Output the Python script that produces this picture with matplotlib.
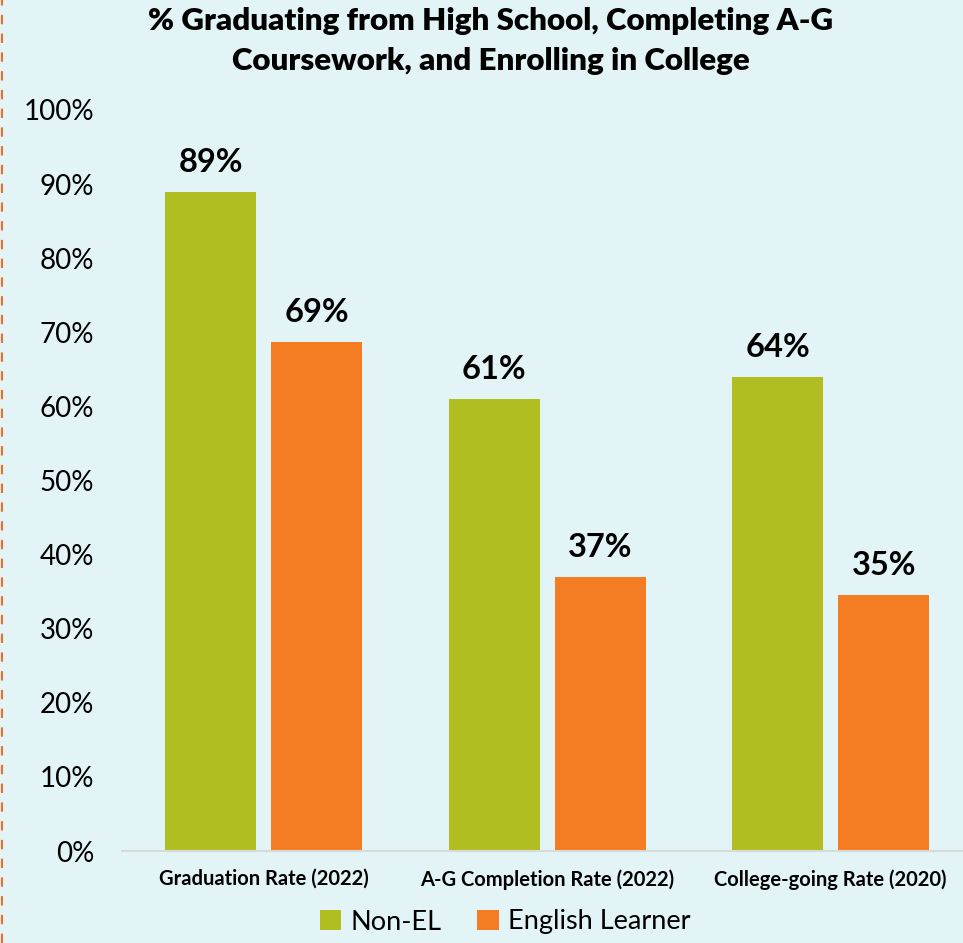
import matplotlib
matplotlib.use("Agg")
import matplotlib.pyplot as plt
import numpy as np
from matplotlib.patches import Patch
from matplotlib.lines import Line2D

plt.rcParams['font.family'] = ['Lato', 'DejaVu Sans']

categories = ["Graduation Rate (2022)", "A-G Completion Rate (2022)", "College-going Rate (2020)"]
non_el = [89, 61, 64]
english_learner = [68.7, 37, 34.6]
series_names = ["Non-EL", "English Learner"]
yticks = [0, 10, 20, 30, 40, 50, 60, 70, 80, 90, 100]

bg = "#E2F4F6"
green = "#B0BE22"
orange = "#F47C22"

fig = plt.figure(figsize=(9.63, 9.43), dpi=100, facecolor=bg)
ax = fig.add_axes([122 / 963, 92 / 943, 1 - 122 / 963, (851 - 110) / 943])
ax.set_facecolor(bg)

x = np.arange(len(categories))
w = 0.321
off = 0.187
b1 = ax.bar(x - off, non_el, w, color=green)
b2 = ax.bar(x + off, english_learner, w, color=orange)

for bars, vals in [(b1, non_el), (b2, english_learner)]:
    for rect, v in zip(bars, vals):
        ax.text(rect.get_x() + rect.get_width() / 2, v + 2.0, f"{round(v)}%",
                ha="center", va="bottom", fontsize=23.5, fontweight="bold")

ax.set_xlim(-0.5, -0.5 + 841 / 283.5)
ax.set_ylim(0, 100)
ax.set_yticks(yticks)
ax.set_yticklabels([f"{t}%" for t in yticks], fontsize=20)
ax.tick_params(axis="y", length=0, pad=20)
ax.set_xticks(x)
ax.set_xticklabels(categories, fontsize=14.5, fontweight="bold")
ax.tick_params(axis="x", length=0, pad=13)
for s in ["top", "right", "left"]:
    ax.spines[s].set_visible(False)
ax.spines["bottom"].set_color("#D9D9D9")
ax.spines["bottom"].set_linewidth(1.5)

fig.text(491 / 963, 1 - 41 / 943,
         "% Graduating from High School, Completing A-G\nCoursework, and Enrolling in College",
         ha="center", va="center", fontsize=22.5, fontweight="heavy", linespacing=1.55)

handles = [Patch(facecolor=green), Patch(facecolor=orange)]
fig.legend(handles, series_names, loc="center", bbox_to_anchor=(505 / 963, 1 - 922 / 943),
           ncol=2, frameon=False, fontsize=19.5, handlelength=0.8, handleheight=0.8,
           handletextpad=0.35, columnspacing=1.3)

fig.add_artist(Line2D([1.5 / 963, 1.5 / 963], [0, 1], transform=fig.transFigure,
                      color="#F26B2A", linewidth=1.5, linestyle=(0, (4.5, 4.5))))

fig.savefig("out.png", dpi=100, facecolor=bg)
